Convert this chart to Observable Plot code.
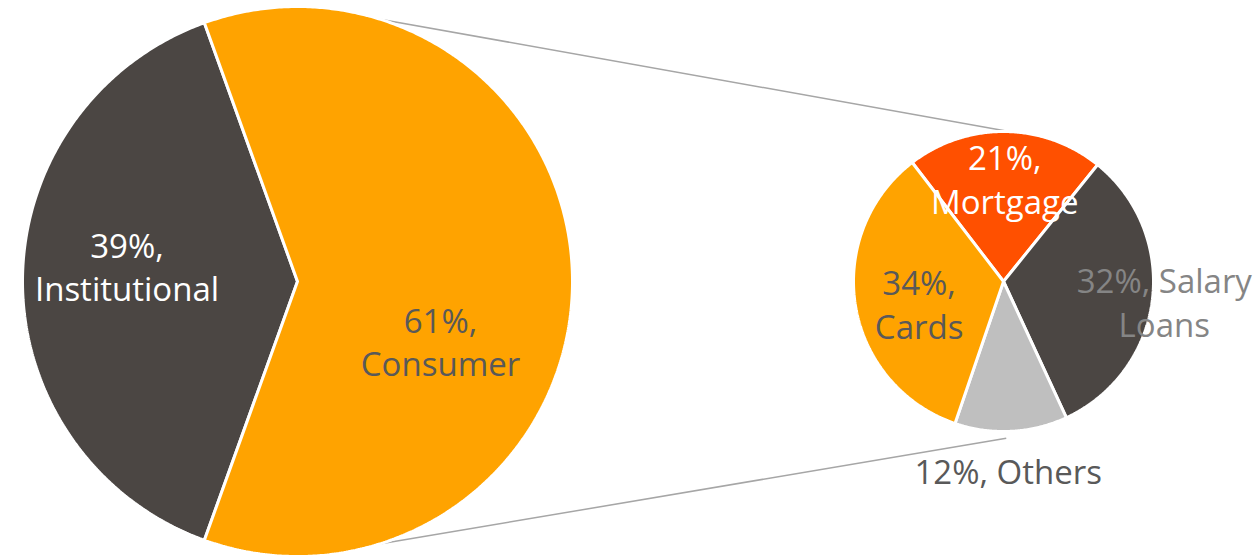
<!DOCTYPE html>
<html>
<head>
<meta charset="utf-8">
<script src="https://cdn.jsdelivr.net/npm/d3@7"></script>
<script src="https://cdn.jsdelivr.net/npm/@observablehq/plot@0.6"></script>
<style>
  html, body { margin: 0; padding: 0; background: #ffffff; }
  #chart { width: 1255px; height: 555px; }
</style>
</head>
<body>
<div id="chart"></div>
<script>
// ---------------- DATA ----------------
const mainCategories = ["Institutional", "Consumer"];
const mainValues = [39, 61];
const subCategories = ["Mortgage", "Salary Loans", "Others", "Cards"];
const subValues = [21, 32, 12, 34];
// data label texts as wrapped in the original
const mainLabelTexts = ["39%,\nInstitutional", "61%,\nConsumer"];
const subLabelTexts = ["21%,\nMortgage", "32%, Salary\nLoans", "12%, Others", "34%,\nCards"];

// ---------------- STYLE / LAYOUT ----------------
const W = 1255, H = 555;
const mainColors = ["#4b4643", "#ffa300"];
const subColors = ["#ff5000", "#4b4643", "#bfbfbf", "#ffa300"];
const mainLabelColors = ["#ffffff", "#595959"];
const subLabelColors = ["#ffffff", "#858585", "#595959", "#595959"];
const bigPie = {cx: 297, cy: 281, r: 275};
const smallPie = {cx: 1003, cy: 281, r: 150};
const deg = Math.PI / 180;
// label placement: radius fraction along mid-angle + nudge
const mainLabelPlace = [{rf: 0.62, dx: 0, dy: -16}, {rf: 0.52, dx: 0, dy: 59}];
const subLabelPlace = [{rf: 0.69, dx: 0, dy: 0}, {rf: 1.08, dx: 0, dy: 0}, {rf: 1.26, dx: -5, dy: 0}, {rf: 0.57, dx: 0, dy: 8}];
// connector anchors (angle on big pie, angle + radius fraction on small pie)
const connectorPlace = [{a1: 17.45, a2: 2.6, r2: 1.0}, {a1: 162.7, a2: 179, r2: 1.045}];

// ---------------- GEOMETRY ----------------
function polar(pie, a, rf = 1) {
  return [pie.cx + pie.r * rf * Math.sin(a), pie.cy - pie.r * rf * Math.cos(a)];
}
function slicePolys(arcs, pie, cats, colors) {
  const pts = [];
  arcs.forEach((d, i) => {
    const c = [pie.cx, pie.cy];
    pts.push({slice: cats[i], x: c[0], y: c[1], color: colors[i]});
    const n = Math.max(8, Math.ceil((d.endAngle - d.startAngle) / (0.5 * deg)));
    for (let k = 0; k <= n; k++) {
      const a = d.startAngle + (d.endAngle - d.startAngle) * k / n;
      const [x, y] = polar(pie, a);
      pts.push({slice: cats[i], x, y, color: colors[i]});
    }
    pts.push({slice: cats[i], x: c[0], y: c[1], color: colors[i]});
  });
  return pts;
}

const mainTotal = d3.sum(mainValues);
const consumerShare = mainValues[1] / mainTotal;
const mainStart = Math.PI / 2 + Math.PI * consumerShare; // Consumer centred on the right
const mainArcs = d3.pie().sort(null).value(d => d)
  .startAngle(mainStart).endAngle(mainStart + 2 * Math.PI)(mainValues);
const subStart = -37.5 * deg;
const subArcs = d3.pie().sort(null).value(d => d)
  .startAngle(subStart).endAngle(subStart + 2 * Math.PI)(subValues);

const polys = [
  ...slicePolys(mainArcs, bigPie, mainCategories.map(c => "main-" + c), mainColors),
  ...slicePolys(subArcs, smallPie, subCategories.map(c => "sub-" + c), subColors)
];

function labelRows(arcs, pie, texts, colors, place) {
  return arcs.map((d, i) => {
    const mid = (d.startAngle + d.endAngle) / 2;
    const [x, y] = polar(pie, mid, place[i].rf);
    return {x: x + place[i].dx, y: y + place[i].dy, text: texts[i], color: colors[i]};
  });
}
const labels = [
  ...labelRows(mainArcs, bigPie, mainLabelTexts, mainLabelColors, mainLabelPlace),
  ...labelRows(subArcs, smallPie, subLabelTexts, subLabelColors, subLabelPlace)
];

const connectors = connectorPlace.map(c => {
  const [x1, y1] = polar(bigPie, c.a1 * deg);
  const [x2, y2] = polar(smallPie, c.a2 * deg, c.r2);
  return {x1, y1, x2, y2};
});

// ---------------- PLOT ----------------
const chart = Plot.plot({
  width: W,
  height: H,
  margin: 0,
  x: {domain: [0, W], range: [0, W], axis: null},
  y: {domain: [0, H], range: [0, H], axis: null},
  color: {type: "identity"},
  style: {background: "#ffffff", fontFamily: "'Open Sans', sans-serif"},
  marks: [
    Plot.link(connectors, {x1: "x1", y1: "y1", x2: "x2", y2: "y2", stroke: "#a6a6a6", strokeWidth: 1.5}),
    Plot.line(polys, {x: "x", y: "y", z: "slice", fill: "color", stroke: "#ffffff", strokeWidth: 3, strokeLinejoin: "miter", curve: "linear"}),
    Plot.text(labels, {x: "x", y: "y", text: "text", fill: "color", fontSize: 33, lineHeight: 1.33,
      lineAnchor: "middle", textAnchor: "middle", fontFamily: "'Open Sans', sans-serif"})
  ]
});
document.getElementById("chart").appendChild(chart);
</script>
</body>
</html>
